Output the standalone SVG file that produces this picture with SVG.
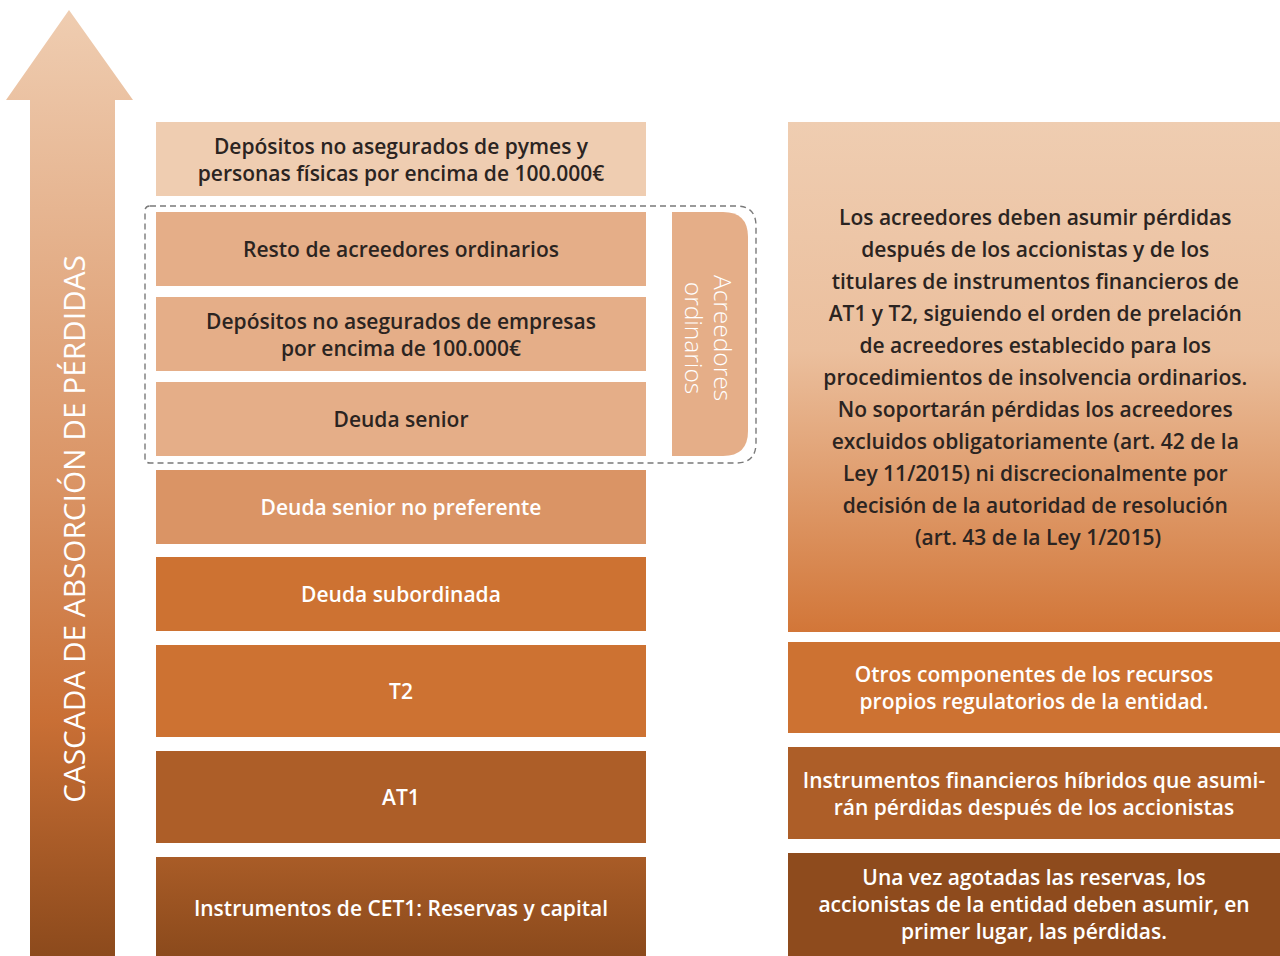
<svg xmlns="http://www.w3.org/2000/svg" width="1280" height="956" viewBox="0 0 1280 956">
<defs>
<linearGradient id="gArrow" x1="0" y1="0" x2="0" y2="1">
<stop offset="0" stop-color="#efcdb1"/>
<stop offset="0.5" stop-color="#da9465"/>
<stop offset="0.75" stop-color="#c96f35"/>
<stop offset="1" stop-color="#8c4a1c"/>
</linearGradient>
<linearGradient id="gBig" x1="0" y1="0" x2="0" y2="1">
<stop offset="0" stop-color="#efcdb1"/>
<stop offset="0.45" stop-color="#ebbf9d"/>
<stop offset="1" stop-color="#d27638"/>
</linearGradient>
<linearGradient id="gCet" x1="0" y1="0" x2="0" y2="1">
<stop offset="0" stop-color="#a95c27"/>
<stop offset="1" stop-color="#8b4a1c"/>
</linearGradient>
<style>
.t{font-family:"Open Sans","Noto Sans","Liberation Sans",sans-serif;font-size:21px;font-weight:600;text-anchor:middle}
.dk{fill:#2b2421}
.wh{fill:#ffffff}
.c1{fill:#efcdb1}
.c2{fill:#e5ae88}
.c3{fill:#da9465}
.c4{fill:#cd7232}
.c5{fill:#ad5e28}
</style>
</defs>
<g id="arrow">
<path d="M69,10 L133,100 L115,100 L115,956 L30,956 L30,100 L6,100 Z" fill="url(#gArrow)"/>
<text transform="translate(85,529) rotate(-90)" text-anchor="middle" font-family="Open Sans, Noto Sans, Liberation Sans, sans-serif" font-size="29.8" fill="#ffffff">CASCADA DE ABSORCIÓN DE PÉRDIDAS</text>
</g>
<g id="connectors">
<path d="M150,206 L736,206 Q756,206 756,226 L756,443 Q756,463 736,463 L150,463 Q145,463 145,458 L145,211 Q145,206 150,206 Z" fill="none" stroke="#7a7a7a" stroke-width="1.4" stroke-dasharray="6 4"/>
</g>
<g id="n1"><rect x="156" y="122" width="490" height="74" class="c1"/>
<text class="t dk"><tspan x="401" y="154">Depósitos no asegurados de pymes y</tspan><tspan x="401" y="181">personas físicas por encima de 100.000€</tspan></text></g>
<g id="n2"><rect x="156" y="212" width="490" height="74" class="c2"/>
<text class="t dk" x="401" y="257">Resto de acreedores ordinarios</text></g>
<g id="n3"><rect x="156" y="297" width="490" height="74" class="c2"/>
<text class="t dk"><tspan x="401" y="329">Depósitos no asegurados de empresas</tspan><tspan x="401" y="356">por encima de 100.000€</tspan></text></g>
<g id="n4"><rect x="156" y="382" width="490" height="74" class="c2"/>
<text class="t dk" x="401" y="427">Deuda senior</text></g>
<g id="nAcre"><path d="M672,212 L723,212 Q748,212 748,237 L748,431 Q748,456 723,456 L672,456 Z" class="c2"/>
<text transform="translate(714,338) rotate(90)" text-anchor="middle" font-family="Open Sans, Noto Sans, Liberation Sans, sans-serif" font-size="24.5" font-weight="300" fill="#ffffff"><tspan x="0" y="0">Acreedores</tspan><tspan x="0" y="29">ordinarios</tspan></text></g>
<g id="n5"><rect x="156" y="470" width="490" height="74" class="c3"/>
<text class="t wh" x="401" y="515">Deuda senior no preferente</text></g>
<g id="n6"><rect x="156" y="557" width="490" height="74" class="c4"/>
<text class="t wh" x="401" y="602">Deuda subordinada</text></g>
<g id="n7"><rect x="156" y="645" width="490" height="92" class="c4"/>
<text class="t wh" x="401" y="699">T2</text></g>
<g id="n8"><rect x="156" y="751" width="490" height="92" class="c5"/>
<text class="t wh" x="401" y="805">AT1</text></g>
<g id="n9"><rect x="156" y="857" width="490" height="99" fill="url(#gCet)"/>
<text class="t wh" x="401" y="916">Instrumentos de CET1: Reservas y capital</text></g>
<g id="r1"><rect x="788" y="122" width="492" height="510" fill="url(#gBig)"/>
<text class="t dk">
<tspan x="1038" y="225">Los acreedores deben asumir pérdidas</tspan>
<tspan x="1038" y="257">después de los accionistas y de los</tspan>
<tspan x="1038" y="289">titulares de instrumentos financieros de</tspan>
<tspan x="1038" y="321">AT1 y T2, siguiendo el orden de prelación</tspan>
<tspan x="1038" y="353">de acreedores establecido para los</tspan>
<tspan x="1038" y="385">procedimientos de insolvencia ordinarios.</tspan>
<tspan x="1038" y="417">No soportarán pérdidas los acreedores</tspan>
<tspan x="1038" y="449">excluidos obligatoriamente (art. 42 de la</tspan>
<tspan x="1038" y="481">Ley 11/2015) ni discrecionalmente por</tspan>
<tspan x="1038" y="513">decisión de la autoridad de resolución</tspan>
<tspan x="1038" y="545">(art. 43 de la Ley 1/2015)</tspan>
</text></g>
<g id="r2"><rect x="788" y="642" width="492" height="91" class="c4"/>
<text class="t wh"><tspan x="1034" y="682">Otros componentes de los recursos</tspan><tspan x="1034" y="709">propios regulatorios de la entidad.</tspan></text></g>
<g id="r3"><rect x="788" y="747" width="492" height="92" class="c5"/>
<text class="t wh"><tspan x="1034" y="788">Instrumentos financieros híbridos que asumi-</tspan><tspan x="1034" y="815">rán pérdidas después de los accionistas</tspan></text></g>
<g id="r4"><rect x="788" y="853" width="492" height="103" fill="#8e4b1d"/>
<text class="t wh"><tspan x="1034" y="885">Una vez agotadas las reservas, los</tspan><tspan x="1034" y="912">accionistas de la entidad deben asumir, en</tspan><tspan x="1034" y="939">primer lugar, las pérdidas.</tspan></text></g>
</svg>
